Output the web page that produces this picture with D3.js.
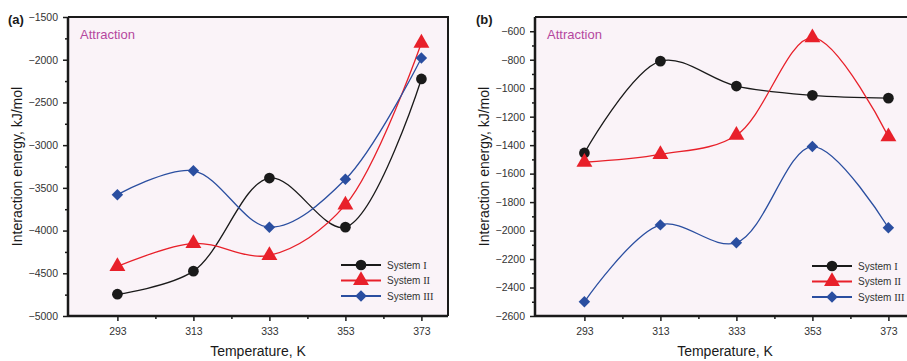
<!DOCTYPE html>
<html>
<head>
<meta charset="utf-8">
<script src="https://cdn.jsdelivr.net/npm/d3@7"></script>
<style>
  html, body { margin: 0; padding: 0; background: #fff; }
  svg { display: block; font-family: Arial, "Liberation Sans", sans-serif; }
</style>
</head>
<body>
<svg id="chart" width="907" height="361"></svg>
<script>
// Temperatures (K)
const temps = [293, 313, 333, 353, 373];
const seriesLabels = ["System", "System", "System"];
const seriesNumerals = ["I", "II", "III"];

// Panel (a) interaction energies, kJ/mol
const aSystem1 = [-4745, -4475, -3385, -3960, -2225];
const aSystem2 = [-4420, -4150, -4290, -3700, -1805];
const aSystem3 = [-3580, -3300, -3960, -3400, -1980];

// Panel (b) interaction energies, kJ/mol
const bSystem1 = [-1455, -810, -985, -1050, -1070];
const bSystem2 = [-1520, -1465, -1330, -645, -1340];
const bSystem3 = [-2500, -1960, -2085, -1410, -1980];

// Axis tick values
const aYTicks = [-1500, -2000, -2500, -3000, -3500, -4000, -4500, -5000];
const bYTicks = [-600, -800, -1000, -1200, -1400, -1600, -1800, -2000, -2200, -2400, -2600];
const xTicks = [293, 313, 333, 353, 373];

const colors = ["#1a1a1a", "#e8202a", "#2a4ea0"];
const markers = [d3.symbolCircle, d3.symbolTriangle, d3.symbolSquare];
const markerSizes = [90, 110, 66];
const markerRot = [0, 0, 45];

const svg = d3.select("#chart");
const fmt = v => (v < 0 ? "\u2212" + Math.abs(v) : String(v));

function marker(sel, i) {
  sel.attr("d", d3.symbol().type(markers[i]).size(markerSizes[i]))
    .attr("fill", colors[i]);
}

function panel(cfg) {
  const x = d3.scaleLinear().domain([280, 380]).range([cfg.left, cfg.left + 380]);
  const y = d3.scaleLinear().domain(cfg.yDomain).range([316, 17]);
  const g = svg.append("g");

  // plot background
  g.append("rect")
    .attr("x", x.range()[0]).attr("y", 17)
    .attr("width", x.range()[1] - x.range()[0]).attr("height", 299)
    .attr("fill", "#faf3f8");

  // series lines and markers
  cfg.series.forEach((vals, i) => {
    const pts = vals.map((v, k) => [x(temps[k]), y(v)]);
    g.append("path")
      .attr("d", d3.line().curve(d3.curveCatmullRom.alpha(0.5))(pts))
      .attr("fill", "none").attr("stroke", colors[i]).attr("stroke-width", 1.3);
    g.selectAll(null).data(pts).join("path")
      .attr("transform", d => `translate(${d[0]},${d[1]}) rotate(${markerRot[i]})`)
      .call(marker, i);
  });

  // frame: top and right
  g.append("path")
    .attr("d", `M${x.range()[0]},17H${x.range()[1]}V316`)
    .attr("fill", "none").attr("stroke", "#1a1a1a").attr("stroke-width", 2);

  // x axis
  const xAxis = g.append("g").attr("transform", "translate(0,316)")
    .call(d3.axisBottom(x).tickValues(xTicks).tickFormat(d3.format("d")).tickSize(5).tickPadding(7));
  g.append("g").attr("transform", "translate(0,316)")
    .call(d3.axisBottom(x).tickValues([303, 323, 343, 363]).tickFormat("").tickSize(3))
    .call(s => s.select(".domain").remove());

  // y axis
  const yAxis = g.append("g").attr("transform", `translate(${cfg.left},0)`)
    .call(d3.axisLeft(y).tickValues(cfg.yTicks).tickFormat(fmt).tickSize(5).tickPadding(cfg.yPad));
  g.append("g").attr("transform", `translate(${cfg.left},0)`)
    .call(d3.axisLeft(y).tickValues(cfg.yMinor).tickFormat("").tickSize(3))
    .call(s => s.select(".domain").remove());

  g.selectAll(".tick line").attr("stroke", "#1a1a1a").attr("stroke-width", 1.5);
  g.selectAll(".domain").attr("stroke", "#1a1a1a").attr("stroke-width", 2.5);
  g.selectAll(".tick text").attr("font-size", 10.5).attr("fill", "#333")
    .attr("font-family", "Arial, 'Liberation Sans', sans-serif");
  // square the domain ends
  xAxis.select(".domain").attr("d", `M${x.range()[0]},0H${x.range()[1]}`);
  yAxis.select(".domain").attr("d", `M0,316V17`);

  // axis titles
  g.append("text")
    .attr("x", (x.range()[0] + x.range()[1]) / 2)
    .attr("y", 356).attr("text-anchor", "middle")
    .attr("font-size", 14).attr("fill", "#1a1a1a")
    .text("Temperature, K");
  g.append("text")
    .attr("transform", `translate(${cfg.yTitleX},166.5) rotate(-90)`)
    .attr("text-anchor", "middle").attr("font-size", 14).attr("fill", "#1a1a1a")
    .text("Interaction energy, kJ/mol");

  // panel tag and annotation
  g.append("text").attr("x", cfg.tagX).attr("y", 24)
    .attr("font-size", 13).attr("font-weight", "bold").attr("fill", "#1a1a1a")
    .text(cfg.tag);
  g.append("text").attr("x", cfg.left + 12).attr("y", 39)
    .attr("font-size", 13).attr("fill", "#b5479e")
    .text("Attraction");

  // legend
  const lg = g.append("g");
  seriesLabels.forEach((name, i) => {
    const ly = cfg.legendY + i * 15.5;
    lg.append("line").attr("x1", cfg.legendX).attr("x2", cfg.legendX + 40)
      .attr("y1", ly).attr("y2", ly).attr("stroke", colors[i]).attr("stroke-width", 2);
    lg.append("path")
      .attr("transform", `translate(${cfg.legendX + 20},${ly}) rotate(${markerRot[i]})`)
      .call(marker, i);
    const t = lg.append("text").attr("x", cfg.legendX + 46).attr("y", ly + 3.5)
      .attr("font-size", 10).attr("fill", "#333");
    t.append("tspan").text(name + " ");
    t.append("tspan").attr("font-family", "'Liberation Serif', 'DejaVu Serif', serif")
      .attr("font-size", 10.5).text(seriesNumerals[i]);
  });

  return { x, y };
}

panel({
  left: 68, yDomain: [-5000, -1500],
  yTicks: aYTicks, yMinor: d3.range(-4750, -1500, 500), yPad: 5,
  series: [aSystem1, aSystem2, aSystem3],
  yTitleX: 22, tag: "(a)", tagX: 8,
  legendX: 341, legendY: 265
});

panel({
  left: 535, yDomain: [-2600, -500],
  yTicks: bYTicks, yMinor: d3.range(-2500, -500, 200), yPad: 5,
  series: [bSystem1, bSystem2, bSystem3],
  yTitleX: 489, tag: "(b)", tagX: 476,
  legendX: 812, legendY: 266
});
</script>
</body>
</html>
